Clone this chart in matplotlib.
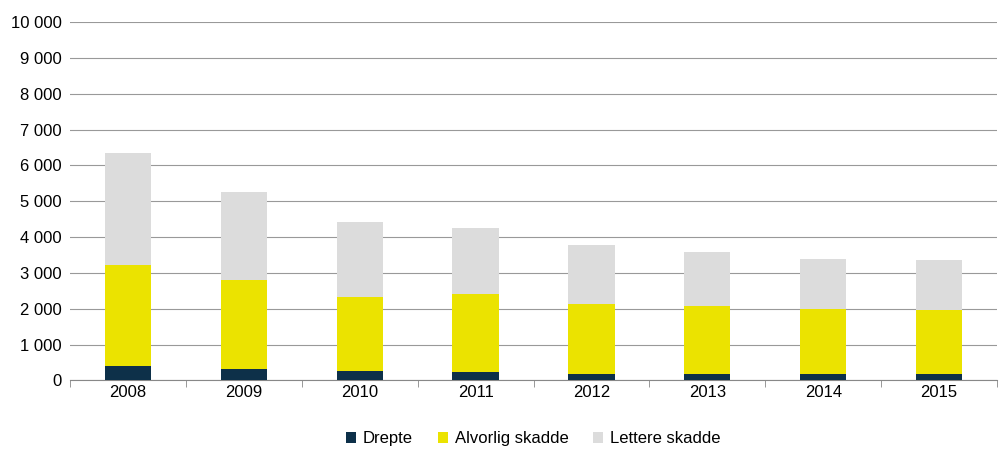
import matplotlib
matplotlib.use("Agg")
import matplotlib.pyplot as plt
import numpy as np

years = ["2008","2009","2010","2011","2012","2013","2014","2015"]
drepte = [390, 305, 250, 220, 170, 190, 190, 170]
alvorlig = [2820, 2485, 2070, 2180, 1950, 1880, 1790, 1790]
lettere = [3130, 2460, 2090, 1850, 1650, 1510, 1400, 1390]

plt.rcParams["font.family"] = "Liberation Sans"
fig = plt.figure(figsize=(10, 4.61), dpi=100)
ax = fig.add_axes([0.07, 0.175, 0.927, 0.777])
x = np.arange(len(years))
w = 0.4
d = np.array(drepte); a = np.array(alvorlig); l = np.array(lettere)
ax.bar(x, d, w, color="#0d3049", label="Drepte", zorder=3)
ax.bar(x, a, w, bottom=d, color="#ebe300", label="Alvorlig skadde", zorder=3)
ax.bar(x, l, w, bottom=d + a, color="#dcdcdc", label="Lettere skadde", zorder=3)
ax.set_xlim(-0.5, len(years) - 0.5)
ax.set_ylim(0, 10000)
ticks = np.arange(0, 10001, 1000)
ax.set_yticks(ticks)
ax.set_yticklabels([f"{t:,}".replace(",", " ") for t in ticks], fontsize=12)
ax.set_xticks(x)
ax.set_xticklabels(years, fontsize=12)
ax.grid(axis="y", color="#999999", linewidth=0.8, zorder=0)
for s in ["top", "right", "left"]:
    ax.spines[s].set_visible(False)
ax.spines["bottom"].set_color("#888888")
ax.tick_params(axis="y", length=0, pad=6)
ax.tick_params(axis="x", length=5, color="#888888")
ax.set_xticks(np.arange(-0.5, len(years)), minor=True)
ax.tick_params(axis="x", which="major", length=0)
ax.tick_params(axis="x", which="minor", length=5, color="#888888")
ax.legend(loc="upper center", bbox_to_anchor=(0.5, -0.1), ncol=3, frameon=False,
          fontsize=12, handlelength=0.6, handleheight=0.6, columnspacing=1.5, handletextpad=0.4)
fig.savefig("out.png", dpi=100)
